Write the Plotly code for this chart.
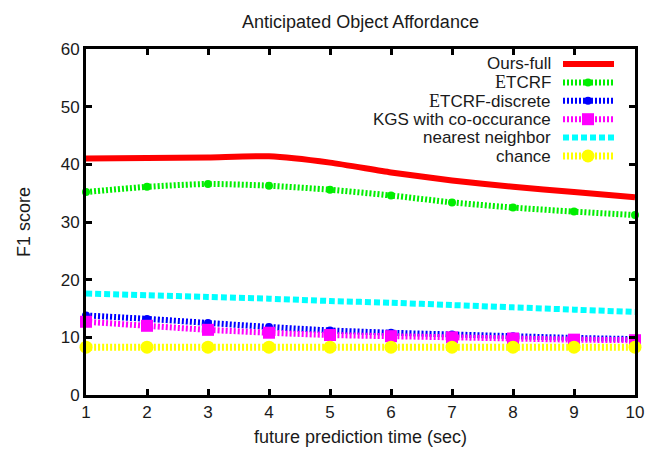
import plotly.graph_objects as go

x = [1, 2, 3, 4, 5, 6, 7, 8, 9, 10]
ours_full = [41.0, 41.1, 41.2, 41.4, 40.3, 38.6, 37.2, 36.1, 35.2, 34.3]
etcrf = [35.2, 36.1, 36.6, 36.3, 35.6, 34.6, 33.4, 32.5, 31.8, 31.2]
etcrf_discrete = [13.8, 13.2, 12.5, 11.8, 11.2, 10.8, 10.5, 10.2, 9.9, 9.7]
kgs = [12.7, 12.0, 11.3, 10.8, 10.4, 10.2, 10.0, 9.8, 9.6, 9.5]
nearest = [17.6, 17.3, 17.0, 16.7, 16.3, 16.0, 15.6, 15.2, 14.8, 14.4]
chance = [8.3, 8.3, 8.3, 8.3, 8.3, 8.3, 8.3, 8.3, 8.3, 8.3]

legend_names = ["Ours-full",
                "<span style=\"font-family:'Liberation Serif';font-size:18px\">E</span>TCRF",
                "<span style=\"font-family:'Liberation Serif';font-size:18px\">E</span>TCRF-discrete",
                "KGS with co-occurance", "nearest neighbor", "chance"]

series = [
    (ours_full, "#ff0000", 6, "solid", None, 0),
    (etcrf, "#00ee00", 6, "2px,2px", "circle", 8),
    (etcrf_discrete, "#0000ff", 6, "2px,2px", "circle", 8),
    (kgs, "#ff00ff", 6, "2px,2px", "square", 12),
    (nearest, "#00ffff", 6, "6px,3px", None, 0),
    (chance, "#ffff00", 7, "2px,2px", "circle", 13),
]

FONT = "Liberation Sans, Arial, sans-serif"
TXT = "#1a1a1a"
fig = go.Figure()
for (ys, col, w, dash, sym, ms), name in zip(series, legend_names):
    mode = "lines+markers" if sym else "lines"
    fig.add_trace(go.Scatter(
        x=x, y=ys, mode=mode, name=name, showlegend=False,
        line=dict(color=col, width=w, dash=dash, shape="spline", smoothing=0.6),
        marker=dict(symbol=sym or "circle", size=ms, color=col) if sym else None,
        cliponaxis=False))

# page offset (body margin of the html page)
OFF = 8
W, H = 661 - OFF, 451 - OFF
# plot area in page pixels
L, R, T, B = 86, 635, 49, 395

def px(p):
    return (p - L) / (R - L)

def py(p):
    return (B - p) / (B - T)

shapes = []
annotations = []
rows = [64, 82.4, 100.8, 119.2, 137.6, 156]
for (ys, col, w, dash, sym, ms), name, ry in zip(series, legend_names, rows):
    yy = py(ry)
    annotations.append(dict(xref="paper", yref="paper", x=px(553), y=yy,
                            xanchor="right", yanchor="middle", text=name,
                            showarrow=False, font=dict(size=17, color=TXT, family=FONT)))
    shapes.append(dict(type="line", xref="paper", yref="paper",
                       x0=px(563), x1=px(614), y0=yy, y1=yy,
                       line=dict(color=col, width=w, dash=dash)))
    if sym:
        h = ms / 2
        shapes.append(dict(type="circle" if sym == "circle" else "rect",
                           xref="paper", yref="paper", xsizemode="pixel", ysizemode="pixel",
                           xanchor=px(588), yanchor=yy, x0=-h, x1=h, y0=-h, y1=h,
                           fillcolor=col, line=dict(width=0)))

fig.update_layout(
    width=W, height=H,
    margin=dict(l=L - OFF, r=W - (R - OFF), t=T - OFF, b=H - (B - OFF), autoexpand=False),
    paper_bgcolor="white", plot_bgcolor="white",
    font=dict(family=FONT, size=17, color=TXT),
    title=dict(text="Anticipated Object Affordance", x=((L + R) / 2 - OFF) / W, xanchor="center",
               y=1 - (22 - OFF) / H, yanchor="middle", yref="container",
               font=dict(size=18, color=TXT, family=FONT)),
    shapes=shapes, annotations=annotations,
)
fig.update_xaxes(range=[1, 10], tickvals=x, ticks="inside", ticklen=6, tickwidth=3,
                 tickcolor="black", showline=True, linecolor="black", linewidth=3,
                 mirror="ticks", showgrid=False, zeroline=False,
                 title=dict(text="future prediction time (sec)", standoff=9,
                            font=dict(size=18, color=TXT, family=FONT)),
                 tickfont=dict(size=17, color=TXT))
fig.update_yaxes(range=[0, 60], tickvals=[0, 10, 20, 30, 40, 50, 60], ticks="inside",
                 ticklen=6, tickwidth=3, tickcolor="black", showline=True, linecolor="black",
                 linewidth=3, mirror="ticks", showgrid=False, zeroline=False,
                 title=dict(text="F1 score", standoff=26,
                            font=dict(size=18, color=TXT, family=FONT)),
                 tickfont=dict(size=17, color=TXT))

fig.write_html("out.html")
